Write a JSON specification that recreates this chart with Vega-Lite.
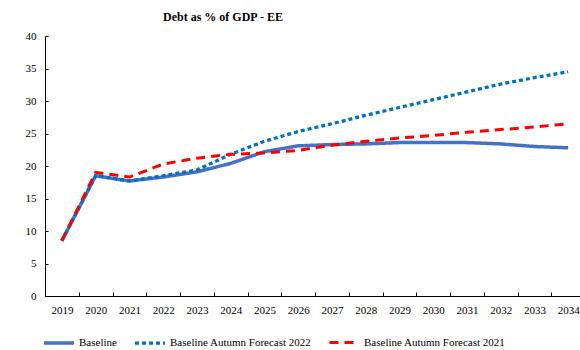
{
  "$schema": "https://vega.github.io/schema/vega-lite/v6.json",
  "autosize": {"type": "none"},
  "padding": {"left": 45, "top": 36, "right": 0, "bottom": 54},
  "width": 540,
  "height": 260,
  "background": "white",
  "title": {
    "text": "Debt as % of GDP - EE",
    "font": "Liberation Serif, serif",
    "fontSize": 12,
    "fontWeight": "bold",
    "color": "black",
    "anchor": "start",
    "dx": 138,
    "offset": 6
  },
  "config": {
    "font": "Liberation Serif, serif",
    "view": {"stroke": null},
    "axis": {"grid": false, "labelFont": "Liberation Serif, serif", "labelFontSize": 11, "labelColor": "black", "domainColor": "black", "tickColor": "black", "domainWidth": 1, "tickWidth": 1},
    "legend": {"labelFont": "Liberation Serif, serif", "labelFontSize": 11, "labelColor": "black"}
  },
  "data": {
    "values": [
      {"year": "2019", "series": "Baseline", "value": 8.5},
      {"year": "2020", "series": "Baseline", "value": 18.5},
      {"year": "2021", "series": "Baseline", "value": 17.7},
      {"year": "2022", "series": "Baseline", "value": 18.3},
      {"year": "2023", "series": "Baseline", "value": 19.1},
      {"year": "2024", "series": "Baseline", "value": 20.4},
      {"year": "2025", "series": "Baseline", "value": 22.2},
      {"year": "2026", "series": "Baseline", "value": 23.1},
      {"year": "2027", "series": "Baseline", "value": 23.3},
      {"year": "2028", "series": "Baseline", "value": 23.4},
      {"year": "2029", "series": "Baseline", "value": 23.6},
      {"year": "2030", "series": "Baseline", "value": 23.6},
      {"year": "2031", "series": "Baseline", "value": 23.6},
      {"year": "2032", "series": "Baseline", "value": 23.4},
      {"year": "2033", "series": "Baseline", "value": 23.0},
      {"year": "2034", "series": "Baseline", "value": 22.8},
      {"year": "2019", "series": "Baseline Autumn Forecast 2022", "value": 8.5},
      {"year": "2020", "series": "Baseline Autumn Forecast 2022", "value": 18.5},
      {"year": "2021", "series": "Baseline Autumn Forecast 2022", "value": 17.7},
      {"year": "2022", "series": "Baseline Autumn Forecast 2022", "value": 18.5},
      {"year": "2023", "series": "Baseline Autumn Forecast 2022", "value": 19.4},
      {"year": "2024", "series": "Baseline Autumn Forecast 2022", "value": 21.8},
      {"year": "2025", "series": "Baseline Autumn Forecast 2022", "value": 23.8},
      {"year": "2026", "series": "Baseline Autumn Forecast 2022", "value": 25.3},
      {"year": "2027", "series": "Baseline Autumn Forecast 2022", "value": 26.5},
      {"year": "2028", "series": "Baseline Autumn Forecast 2022", "value": 27.8},
      {"year": "2029", "series": "Baseline Autumn Forecast 2022", "value": 29.0},
      {"year": "2030", "series": "Baseline Autumn Forecast 2022", "value": 30.2},
      {"year": "2031", "series": "Baseline Autumn Forecast 2022", "value": 31.4},
      {"year": "2032", "series": "Baseline Autumn Forecast 2022", "value": 32.6},
      {"year": "2033", "series": "Baseline Autumn Forecast 2022", "value": 33.6},
      {"year": "2034", "series": "Baseline Autumn Forecast 2022", "value": 34.5},
      {"year": "2019", "series": "Baseline Autumn Forecast 2021", "value": 8.5},
      {"year": "2020", "series": "Baseline Autumn Forecast 2021", "value": 19.0},
      {"year": "2021", "series": "Baseline Autumn Forecast 2021", "value": 18.3},
      {"year": "2022", "series": "Baseline Autumn Forecast 2021", "value": 20.3},
      {"year": "2023", "series": "Baseline Autumn Forecast 2021", "value": 21.2},
      {"year": "2024", "series": "Baseline Autumn Forecast 2021", "value": 21.8},
      {"year": "2025", "series": "Baseline Autumn Forecast 2021", "value": 22.0},
      {"year": "2026", "series": "Baseline Autumn Forecast 2021", "value": 22.4},
      {"year": "2027", "series": "Baseline Autumn Forecast 2021", "value": 23.2},
      {"year": "2028", "series": "Baseline Autumn Forecast 2021", "value": 23.8},
      {"year": "2029", "series": "Baseline Autumn Forecast 2021", "value": 24.3},
      {"year": "2030", "series": "Baseline Autumn Forecast 2021", "value": 24.7},
      {"year": "2031", "series": "Baseline Autumn Forecast 2021", "value": 25.2},
      {"year": "2032", "series": "Baseline Autumn Forecast 2021", "value": 25.6},
      {"year": "2033", "series": "Baseline Autumn Forecast 2021", "value": 26.0},
      {"year": "2034", "series": "Baseline Autumn Forecast 2021", "value": 26.5}
    ]
  },
  "mark": {"type": "line", "strokeCap": "butt"},
  "encoding": {
    "x": {
      "field": "year", "type": "ordinal", "title": null,
      "scale": {"paddingInner": 0, "paddingOuter": 0},
      "axis": {"labelAngle": 0, "tickBand": "extent", "tickSize": -4, "labelPadding": 12, "labelFontSize": 11}
    },
    "y": {
      "field": "value", "type": "quantitative", "title": null,
      "scale": {"domain": [0, 40]},
      "axis": {"values": [0, 5, 10, 15, 20, 25, 30, 35, 40], "tickSize": -3, "labelPadding": 12, "labelFontSize": 11}
    },
    "color": {
      "field": "series", "type": "nominal", "title": null,
      "scale": {"domain": ["Baseline", "Baseline Autumn Forecast 2022", "Baseline Autumn Forecast 2021"], "range": ["#4472C4", "#0070C0", "#FF0000"]},
      "legend": {"orient": "none", "direction": "horizontal", "legendX": -3, "legendY": 290, "symbolType": "stroke", "symbolSize": 900, "symbolStrokeWidth": 3, "columnPadding": 11, "labelOffset": 3, "gridAlign": "none"}
    },
    "strokeDash": {
      "field": "series", "type": "nominal", "title": null,
      "scale": {"domain": ["Baseline", "Baseline Autumn Forecast 2022", "Baseline Autumn Forecast 2021"], "range": [[1, 0], [4, 3], [9, 6]]}
    },
    "strokeWidth": {
      "field": "series", "type": "nominal", "title": null,
      "scale": {"domain": ["Baseline", "Baseline Autumn Forecast 2022", "Baseline Autumn Forecast 2021"], "range": [3.5, 3, 3]},
      "legend": null
    }
  }
}
